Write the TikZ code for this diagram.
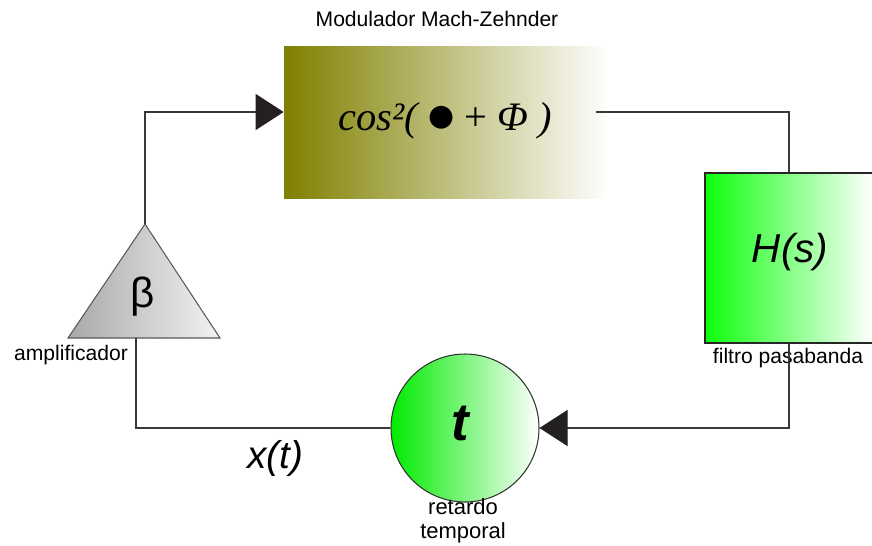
\documentclass[tikz,border=0pt]{standalone}
\usepackage{fontspec}
\setmainfont{Liberation Sans}
\newfontfamily\timesfont{Liberation Serif}
\newfontfamily\symbfont{DejaVu Sans}
\usepackage{xcolor}
\usepackage{tikz}
\usetikzlibrary{arrows.meta}
\definecolor{olivedark}{rgb}{0.50,0.50,0.00}
\definecolor{greenfull}{rgb}{0.05,1.0,0.05}
\definecolor{greencirc}{rgb}{0.0,0.92,0.0}
\definecolor{graydark}{rgb}{0.66,0.66,0.66}
\definecolor{grayright}{rgb}{0.95,0.95,0.95}
\definecolor{wiregray}{rgb}{0.22,0.22,0.22}
\definecolor{tipdark}{rgb}{0.14,0.12,0.13}

\begin{document}
\begin{tikzpicture}[
  wire/.style={draw=wiregray, line width=0.6pt},
  bigtip/.style={-{Triangle[length=0.56cm, width=0.72cm, color=tipdark, fill=tipdark]}},
  lbl/.style={font=\fontsize{12}{14}\selectfont, align=center},
]
\useasboundingbox (0,0) rectangle (17.44,-10.9);

%% Mach-Zehnder modulator (top)
\node[lbl] (mzmlbl) at (8.74,-0.38) {Modulador Mach-Zehnder};
\node[left color=olivedark, right color=white, minimum width=6.5cm,
      minimum height=3.04cm, inner sep=0pt] (mzm) at (8.93,-2.44) {};
\node (mzmform) at (8.9,-2.42)
  {\timesfont\fontsize{23}{26}\selectfont\itshape
   cos²(\ \raisebox{0.13em}{\upshape\symbfont\fontsize{17}{20}\selectfont ●}\ {\upshape +}\ Φ\ )};
\coordinate (mzmIn) at ([yshift=0.2cm]mzm.west);
\coordinate (mzmOut) at ([xshift=-0.26cm,yshift=0.2cm]mzm.east);

%% Amplifier (triangle)
\coordinate (ampTop) at (2.9,-4.48);
\coordinate (ampL) at (1.36,-6.76);
\coordinate (ampR) at (4.40,-6.76);
\coordinate (ampOut) at (2.72,-6.76);
\shadedraw[left color=graydark, right color=grayright, draw=gray!70!black,
           line width=0.6pt] (ampTop) -- (ampR) -- (ampL) -- cycle;
\node[font=\fontsize{24}{26}\selectfont] (beta) at (2.86,-5.94) {β};
\node[lbl] (amplbl) at (1.42,-7.1) {amplificador};

%% Band-pass filter (right)
\node[draw=gray!30!black, line width=0.6pt, left color=greenfull, right color=white,
      minimum width=3.36cm, minimum height=3.4cm, inner sep=0pt]
  (filt) at (15.78,-5.16) {};
\node[font=\fontsize{23}{25}\selectfont\itshape] (filtform) at (15.8,-5.04) {H(s)};
\node[lbl] (filtlbl) at (15.76,-7.16) {filtro pasabanda};

%% Time delay (bottom)
\node[circle, draw=gray!40!black, line width=0.6pt, left color=greencirc,
      right color=white, minimum size=2.96cm, inner sep=0pt]
  (delay) at (9.3,-8.56) {};
\node[font=\fontsize{30}{30}\selectfont\bfseries\itshape] (delayt) at (9.2,-8.46) {t};
\node[lbl, font=\fontsize{12.5}{13.5}\selectfont, inner sep=0pt] (delaylbl)
  at (9.26,-10.42) {retardo\\temporal};

%% Connectors
\draw[wire, bigtip] (ampTop) |- (mzmIn);
\draw[wire] (filt.north) |- (mzmOut);
\draw[wire, bigtip] (filt.south) |- (delay.east);
\draw[wire] (delay.west) -| (ampOut);
\node[font=\fontsize{22}{24}\selectfont\itshape] (xt) at (5.5,-9.16) {x(t)};
\end{tikzpicture}
\end{document}
